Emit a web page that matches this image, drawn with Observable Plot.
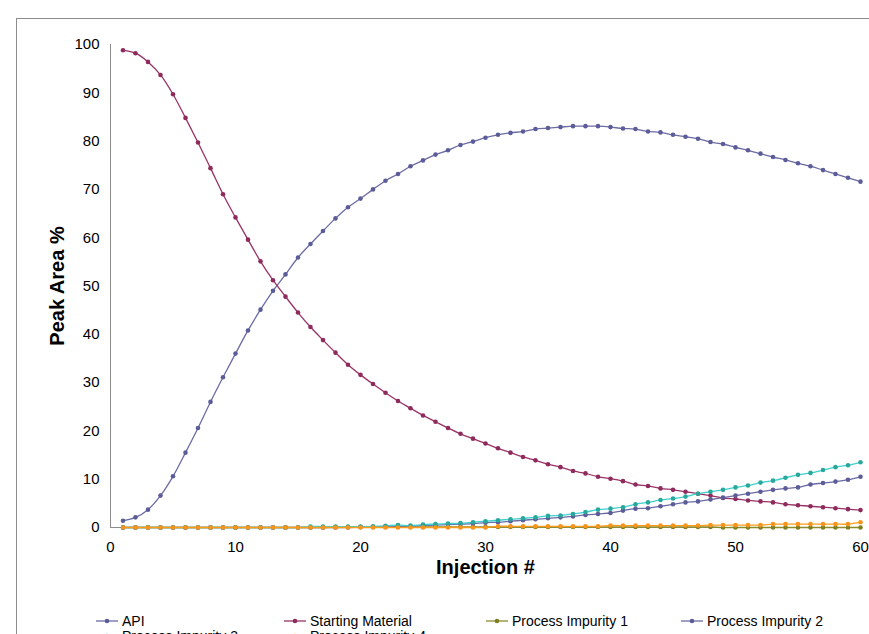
<!DOCTYPE html>
<html><head><meta charset="utf-8">
<script src="https://cdn.jsdelivr.net/npm/d3@7"></script>
<script src="https://cdn.jsdelivr.net/npm/@observablehq/plot@0.6"></script>
<style>
body{margin:0;background:#fff;font-family:"Liberation Sans",Arial,sans-serif;}
#wrap{position:relative;width:869px;height:634px;overflow:hidden;background:#fff;}
#frame{position:absolute;left:16px;top:18px;width:900px;height:700px;border-top:1px solid #8c8c8c;border-left:1px solid #8c8c8c;}
#chart{position:absolute;left:0;top:0;}
.item{position:absolute;display:flex;align-items:center;font-size:14px;color:#000;white-space:nowrap;}
.item svg{position:absolute;left:-26px;top:3px;}
</style></head>
<body><div id="wrap"><div id="frame"></div><div id="chart"></div><div id="legend"></div></div>
<script>
const injection = [1,2,3,4,5,6,7,8,9,10,11,12,13,14,15,16,17,18,19,20,21,22,23,24,25,26,27,28,29,30,31,32,33,34,35,36,37,38,39,40,41,42,43,44,45,46,47,48,49,50,51,52,53,54,55,56,57,58,59,60];
const api = [1.4,2.1,3.7,6.6,10.6,15.5,20.6,26.0,31.1,36.0,40.8,45.1,49.0,52.4,55.9,58.7,61.4,64.0,66.3,68.1,70.0,71.8,73.2,74.8,76.0,77.2,78.1,79.2,79.9,80.7,81.3,81.7,82.0,82.5,82.7,82.9,83.1,83.1,83.1,82.9,82.6,82.5,82.0,81.8,81.3,80.9,80.5,79.8,79.4,78.7,78.1,77.4,76.7,76.1,75.4,74.8,74.0,73.2,72.4,71.6];
const startingMaterial = [98.8,98.2,96.4,93.7,89.7,84.8,79.7,74.4,69.0,64.2,59.6,55.1,51.2,47.8,44.5,41.5,38.8,36.2,33.7,31.6,29.7,27.9,26.2,24.7,23.2,21.9,20.6,19.4,18.4,17.4,16.4,15.5,14.6,13.9,13.1,12.5,11.7,11.2,10.5,10.1,9.6,8.9,8.6,8.1,7.8,7.4,7.0,6.6,6.1,5.9,5.6,5.4,5.2,4.8,4.6,4.4,4.2,4.0,3.8,3.6];
const impurity1 = [0,0,0,0,0,0,0,0,0,0,0,0,0,0,0,0,0,0.1,0.1,0.1,0.1,0.1,0.1,0.1,0.1,0.1,0.1,0.1,0.1,0.1,0.1,0.1,0.1,0.1,0.1,0.1,0.1,0.1,0.1,0.1,0.1,0.1,0.1,0.1,0.1,0.1,0.1,0.1,0,0,0,0,0,0,0,0,0,0,0,0];
const impurity2 = [0,0,0,0,0,0,0,0,0,0,0,0,0,0,0,0,0,0,0,0.1,0.1,0.2,0.2,0.3,0.4,0.5,0.6,0.7,0.8,1.0,1.1,1.3,1.5,1.7,1.9,2.1,2.3,2.6,2.8,3.0,3.5,3.9,4.0,4.4,4.8,5.2,5.4,5.8,6.2,6.6,7.0,7.4,7.8,8.1,8.3,8.9,9.2,9.5,9.9,10.5];
const impurity3 = [0,0,0,0,0,0,0,0,0,0,0,0,0,0,0,0.2,0.2,0.2,0.2,0.2,0.25,0.35,0.5,0.4,0.6,0.7,0.8,0.9,1.1,1.3,1.5,1.7,1.9,2.1,2.4,2.5,2.8,3.2,3.7,3.9,4.2,4.8,5.2,5.7,6.0,6.4,7.0,7.4,7.8,8.3,8.7,9.3,9.7,10.3,10.9,11.3,11.9,12.5,12.9,13.5];
const impurity4 = [0,0,0,0,0,0,0,0,0,0,0,0,0,0,0,0,0,0,0,0,0,0,0,0,0,0,0,0,0,0,0.25,0.25,0.25,0.25,0.25,0.25,0.25,0.25,0.25,0.4,0.4,0.4,0.4,0.4,0.4,0.4,0.4,0.5,0.5,0.5,0.5,0.5,0.7,0.7,0.7,0.7,0.7,0.7,0.7,1.1];
const seriesNames = ["API","Starting Material","Process Impurity 1","Process Impurity 2","Process Impurity 3","Process Impurity 4"];
const xTicks = [0,10,20,30,40,50,60];
const yTicks = [0,10,20,30,40,50,60,70,80,90,100];

const seriesValues = [api, startingMaterial, impurity1, impurity2, impurity3, impurity4];
const lineColors = ["#6b6ba6","#993366","#8c8c2a","#6b6ba6","#3fd0d0","#ff9c1a"];
const dotColors  = ["#5c5c99","#8e2a5c","#7f7f20","#5c5c99","#2aa79b","#f7941d"];

const rows = [];
seriesNames.forEach((name, s) => injection.forEach((inj, i) => rows.push({series: name, s, inj, v: seriesValues[s][i]})));

const marks = [
  Plot.axisY({ticks: yTicks, tickSize: 0, tickPadding: 11, label: null, fontSize: 15}),
  Plot.axisX({ticks: xTicks, tickSize: 0, tickPadding: 14, label: null, fontSize: 15}),
  Plot.ruleX([0], {stroke: "#8c8c8c"}),
  Plot.ruleY([0], {stroke: "#8c8c8c"})
];
seriesNames.forEach((name, s) => {
  const d = rows.filter(r => r.s === s);
  marks.push(Plot.line(d, {x: "inj", y: "v", stroke: lineColors[s], strokeWidth: 1.3, curve: "catmull-rom"}));
  marks.push(Plot.dot(d, {x: "inj", y: "v", r: 2.3, fill: dotColors[s], stroke: "none"}));
});
marks.push(Plot.text(["Peak Area %"], {text: d => d, frameAnchor: "left", dx: -53, rotate: -90, textAnchor: "middle", lineAnchor: "middle", fontWeight: "bold", fontSize: 20, fill: "#000"}));
marks.push(Plot.text(["Injection #"], {text: d => d, frameAnchor: "bottom", dy: 40, textAnchor: "middle", lineAnchor: "middle", fontWeight: "bold", fontSize: 20, fill: "#000"}));

const chart = Plot.plot({
  width: 869, height: 590,
  marginTop: 44, marginBottom: 63, marginLeft: 110, marginRight: 9,
  style: {fontFamily: "'Liberation Sans', Arial, sans-serif", fontSize: "15px", color: "#000", background: "transparent", overflow: "visible"},
  x: {domain: [0, 60]},
  y: {domain: [0, 100]},
  marks
});
document.getElementById("chart").appendChild(chart);

const legendPos = [[122,613],[310,613],[512,613],[707,613],[122,628],[310,628]];
const legend = document.getElementById("legend");
seriesNames.forEach((name, s) => {
  const el = document.createElement("div");
  el.className = "item";
  el.style.left = legendPos[s][0] + "px";
  el.style.top = legendPos[s][1] + "px";
  el.innerHTML = `<svg width="22" height="10"><line x1="0" y1="5" x2="22" y2="5" stroke="${lineColors[s]}" stroke-width="1.3"/><circle cx="11" cy="5" r="2.3" fill="${dotColors[s]}"/></svg><span>${name}</span>`;
  legend.appendChild(el);
});
</script></body></html>
